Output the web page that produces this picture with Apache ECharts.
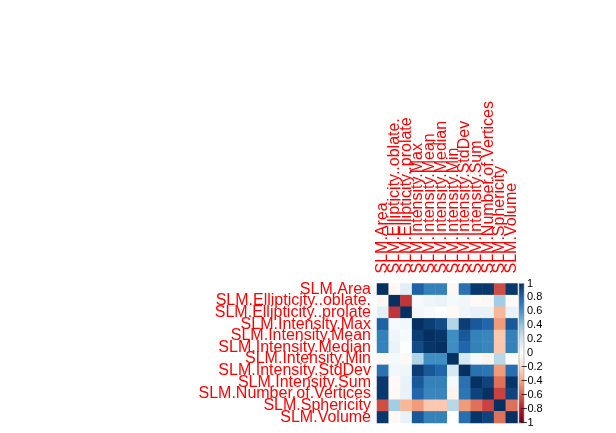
<!DOCTYPE html>
<html>
<head>
<meta charset="utf-8">
<script src="https://cdn.jsdelivr.net/npm/echarts@6/dist/echarts.min.js"></script>
<style>html,body{margin:0;padding:0;background:#fff;}#chart{width:616px;height:433px;}</style>
</head>
<body>
<div id="chart"></div>
<script>
const variables = ["SLM.Area","SLM.Ellipticity..oblate.","SLM.Ellipticity..prolate","SLM.Intensity.Max","SLM.Intensity.Mean","SLM.Intensity.Median","SLM.Intensity.Min","SLM.Intensity.StdDev","SLM.Intensity.Sum","SLM.Number.of.Vertices","SLM.Sphericity","SLM.Volume"];
const rowArea      = [1.00,-0.04, 0.12, 0.82, 0.68, 0.68,-0.04, 0.75, 0.97, 0.97,-0.65, 0.97];
const rowOblate    = [-0.04,1.00,-0.72, 0.04, 0.07, 0.09, 0.05, 0.06,-0.03,-0.04, 0.35,-0.03];
const rowProlate   = [0.12,-0.72, 1.00, 0.06, 0.04, 0.01,-0.04, 0.07, 0.10, 0.10,-0.33, 0.10];
const rowMax       = [0.82, 0.04, 0.06, 1.00, 0.95, 0.90, 0.30, 0.95, 0.85, 0.80,-0.43, 0.85];
const rowMean      = [0.68, 0.07, 0.04, 0.95, 1.00, 0.98, 0.62, 0.85, 0.68, 0.66,-0.27, 0.68];
const rowMedian    = [0.68, 0.09, 0.01, 0.90, 0.98, 1.00, 0.62, 0.80, 0.68, 0.66,-0.27, 0.68];
const rowMin       = [-0.04,0.05,-0.04, 0.30, 0.62, 0.62, 1.00, 0.18, 0.05,-0.06, 0.28, 0.00];
const rowStdDev    = [0.75, 0.06, 0.07, 0.95, 0.85, 0.80, 0.18, 1.00, 0.75, 0.73,-0.43, 0.76];
const rowSum       = [0.97,-0.03, 0.10, 0.85, 0.68, 0.68, 0.05, 0.75, 1.00, 0.93,-0.55, 0.98];
const rowVertices  = [0.97,-0.04, 0.10, 0.80, 0.66, 0.66,-0.06, 0.73, 0.93, 1.00,-0.68, 0.93];
const rowSphericity= [-0.65,0.35,-0.33,-0.43,-0.27,-0.27, 0.28,-0.43,-0.55,-0.68, 1.00,-0.55];
const rowVolume    = [0.97,-0.03, 0.10, 0.85, 0.68, 0.68, 0.00, 0.76, 0.98, 0.93,-0.55, 1.00];
const corrRows = [rowArea,rowOblate,rowProlate,rowMax,rowMean,rowMedian,rowMin,rowStdDev,rowSum,rowVertices,rowSphericity,rowVolume];
const colorbarTicks = [-1,-0.8,-0.6,-0.4,-0.2,0,0.2,0.4,0.6,0.8,1];

const palette = ["#67001F","#B2182B","#D6604D","#F4A582","#FDDBC7","#FFFFFF","#D1E5F0","#92C5DE","#4393C3","#2166AC","#053061"];

const heatData = [];
corrRows.forEach((row, r) => row.forEach((v, c) => heatData.push([c, r, v])));

const font = "'Liberation Sans', Arial, sans-serif";
const chart = echarts.init(document.getElementById('chart'), null, {renderer: 'canvas'});
const gradStops = palette.map((c, i) => ({offset: 1 - i / (palette.length - 1), color: c}));

chart.setOption({
  backgroundColor: '#fff',
  animation: false,
  grid: [
    {left: 377, top: 283.5, width: 140.5, height: 139.5, containLabel: false},
    {left: 519, top: 283.5, width: 5, height: 139.5, show: true,
     backgroundColor: {type: 'linear', x: 0, y: 0, x2: 0, y2: 1, colorStops: gradStops},
     borderColor: '#999', borderWidth: 0.6}
  ],
  xAxis: [
    {type: 'category', gridIndex: 0, data: variables, position: 'top',
     axisLine: {show: false}, axisTick: {show: false}, splitLine: {show: false},
     axisLabel: {rotate: -90, color: '#FF0000', fontSize: 16, fontFamily: font, margin: 10, interval: 0}},
    {type: 'category', gridIndex: 1, data: [''], show: false}
  ],
  yAxis: [
    {type: 'category', gridIndex: 0, data: variables, inverse: true,
     axisLine: {show: false}, axisTick: {show: false}, splitLine: {show: false},
     axisLabel: {color: '#FF0000', fontSize: 16, fontFamily: font, margin: 6, interval: 0}},
    {type: 'value', gridIndex: 1, min: -1, max: 1, interval: 0.2, position: 'right',
     axisLine: {show: false}, axisTick: {show: false}, splitLine: {show: false},
     axisLabel: {color: '#000', fontSize: 11, fontFamily: font, margin: -3, align: 'left',
       rich: {pad: {width: 6, fontSize: 11}},
       formatter: v => {
         const t = colorbarTicks.find(x => Math.abs(x - v) < 1e-6);
         if (t === undefined) return '';
         return t < 0 ? '\u2212' + String(Math.abs(t)) : '{pad|}' + String(t);
       }}}
  ],
  visualMap: {
    type: 'continuous', show: false, min: -1, max: 1, seriesIndex: 0,
    inRange: {color: palette}
  },
  series: [{
    type: 'heatmap', xAxisIndex: 0, yAxisIndex: 0, data: heatData,
    itemStyle: {borderWidth: 0},
    emphasis: {disabled: true}
  }]
});
</script>
</body>
</html>
